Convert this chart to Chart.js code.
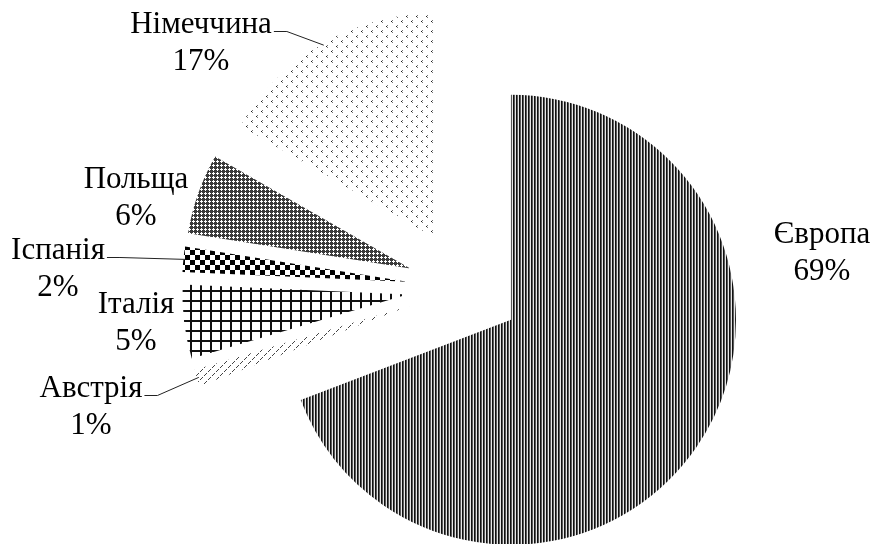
<!DOCTYPE html>
<html lang="uk">
<head>
<meta charset="utf-8">
<script src="https://cdn.jsdelivr.net/npm/chart.js@4.4.1/dist/chart.umd.min.js"></script>
<style>
html,body{margin:0;padding:0;background:#fff;}
#grafico{display:block;}
</style>
</head>
<body>
<canvas id="grafico" width="876" height="544"></canvas>
<script>
const paises = ['Європа', 'Австрія', 'Італія', 'Іспанія', 'Польща', 'Німеччина']
const valores = [69.2, 1.2, 5.3, 1.8, 5.8, 16.7]
const total = valores.reduce((s, v) => s + v, 0)
const percentuais = valores.map(v => Math.round(v / total * 100) + '%')

const explosao = 57
const fonte = '31px "Liberation Serif"'

const ctx = document.getElementById('grafico').getContext('2d')

function padrao(w, h, desenha) {
    const c = document.createElement('canvas')
    c.width = w
    c.height = h
    const g = c.getContext('2d')
    g.fillStyle = '#fff'
    g.fillRect(0, 0, w, h)
    desenha(g)
    return ctx.createPattern(c, 'repeat')
}
function px(g, cor, pts) {
    g.fillStyle = cor
    pts.forEach(p => g.fillRect(p[0], p[1], 1, 1))
}

const padroes = [
    // Європа: riscas verticais
    padrao(3, 1, g => {
        px(g, '#101010', [[0, 0]])
        px(g, '#5a5a5a', [[1, 0]])
        px(g, '#e6e6e6', [[2, 0]])
    }),
    // Австрія: tracejado diagonal
    padrao(8, 8, g => {
        px(g, '#444', [[2, 1], [1, 2], [0, 3], [6, 5], [5, 6], [4, 7]])
    }),
    // Італія: grelha larga
    padrao(10, 10, g => {
        g.fillStyle = '#111'
        g.fillRect(0, 0, 10, 2)
        g.fillRect(0, 0, 2, 10)
    }),
    // Іспанія: xadrez
    padrao(10, 10, g => {
        g.fillStyle = '#000'
        g.fillRect(0, 0, 5, 5)
        g.fillRect(5, 5, 5, 5)
    }),
    // Польща: cruzes brancas sobre cinza
    padrao(4, 4, g => {
        g.fillStyle = '#3a3a3a'
        g.fillRect(0, 0, 4, 4)
        px(g, '#fff', [[1, 0], [0, 1], [1, 1], [2, 1], [1, 2]])
    }),
    // Німеччина: pontos esparsos
    padrao(10, 10, g => {
        px(g, '#1e1e1e', [[1, 1], [6, 6]])
        px(g, '#777', [[2, 0], [2, 2], [7, 5], [7, 7]])
    })
]

const explodir = {
    id: 'explodir',
    beforeDatasetDraw(chart, args) {
        args.meta.data.forEach(arco => {
            const meio = (arco.startAngle + arco.endAngle) / 2
            arco._dx = Math.cos(meio) * explosao
            arco._dy = Math.sin(meio) * explosao
            arco.x += arco._dx
            arco.y += arco._dy
        })
    },
    afterDatasetDraw(chart, args) {
        args.meta.data.forEach(arco => {
            arco.x -= arco._dx
            arco.y -= arco._dy
        })
    }
}

const rotulosFatia = {
    id: 'rotulosFatia',
    afterDraw(chart, args, opts) {
        const g = chart.ctx
        const arcos = chart.getDatasetMeta(0).data
        g.save()
        g.font = fonte
        g.fillStyle = '#000'
        g.strokeStyle = '#222'
        g.lineWidth = 1
        g.textAlign = 'center'
        g.textBaseline = 'alphabetic'
        arcos.forEach((arco, i) => {
            const x = opts.posicoes[i][0]
            const y = opts.posicoes[i][1]
            g.fillText(paises[i], x, y)
            g.fillText(percentuais[i], x, y + opts.entrelinha)
            if (opts.guias[i]) {
                const meio = (arco.startAngle + arco.endAngle) / 2
                const r = explosao + arco.outerRadius - 2
                const fx = arco.x + Math.cos(meio) * r
                const fy = arco.y + Math.sin(meio) * r
                const ix = x + g.measureText(paises[i]).width / 2 + 2
                const iy = y - 1.5
                g.beginPath()
                g.moveTo(ix, iy)
                g.lineTo(ix + 13, iy)
                g.lineTo(fx, fy)
                g.stroke()
            }
        })
        g.restore()
    }
}

new Chart(ctx, {
    type: 'pie',
    data: {
        labels: paises,
        datasets: [{
            data: valores,
            backgroundColor: padroes,
            borderWidth: 0,
            clip: false
        }]
    },
    options: {
        responsive: false,
        devicePixelRatio: 1,
        animation: false,
        events: [],
        radius: 225,
        layout: {
            padding: { left: 52, top: 31, right: 0, bottom: 0 }
        },
        plugins: {
            legend: { display: false },
            tooltip: { enabled: false },
            rotulosFatia: {
                entrelinha: 37,
                posicoes: [[822, 243], [91, 397], [136, 313], [58, 259], [136, 188], [201, 33]],
                guias: [false, true, false, true, false, true]
            }
        }
    },
    plugins: [explodir, rotulosFatia]
})
</script>
</body>
</html>
